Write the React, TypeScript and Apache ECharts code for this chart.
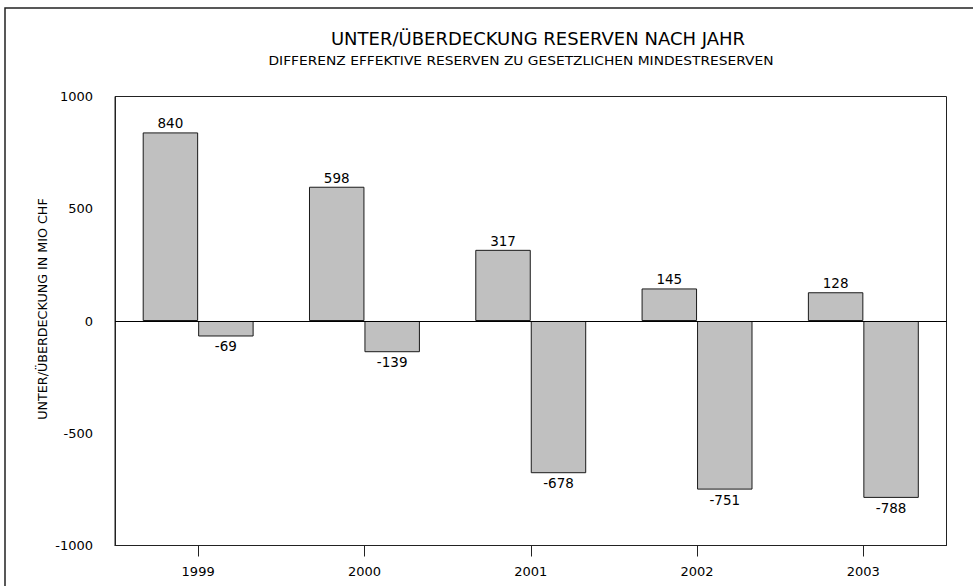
import React, { useEffect, useRef } from "react";
import * as echarts from "echarts";

const categories = ["1999", "2000", "2001", "2002", "2003"];
const positiveValues = [840, 598, 317, 145, 128];
const negativeValues = [-69, -139, -678, -751, -788];
const titleText = "UNTER/ÜBERDECKUNG RESERVEN NACH JAHR";
const subtitleText = "DIFFERENZ EFFEKTIVE RESERVEN ZU GESETZLICHEN MINDESTRESERVEN";
const yAxisName = "UNTER/ÜBERDECKUNG IN MIO CHF";

const FONT = "'DejaVu Sans', Verdana, sans-serif";

export default function App() {
  const ref = useRef<HTMLDivElement>(null);
  useEffect(() => {
    if (!ref.current) return;
    const chart = echarts.init(ref.current, undefined, { renderer: "svg" });
    const barStyle = { color: "#c0c0c0", borderColor: "#1a1a1a", borderWidth: 1 };
    chart.setOption({
      animation: false,
      backgroundColor: "#ffffff",
      textStyle: { fontFamily: FONT },
      graphic: [
        {
          type: "rect",
          shape: { x: 5, y: 8, width: 1200, height: 1200 },
          style: { fill: "none", stroke: "#222", lineWidth: 1.5 },
          silent: true,
        },
        {
          type: "text",
          x: 538,
          y: 39.5,
          scaleX: 1.06,
          style: {
            text: titleText,
            fontFamily: FONT,
            fontSize: 17,
            fill: "#000",
            align: "center",
            verticalAlign: "middle",
          },
          silent: true,
        },
        {
          type: "text",
          x: 521,
          y: 61,
          scaleX: 1.15,
          style: {
            text: subtitleText,
            fontFamily: FONT,
            fontSize: 12,
            fill: "#000",
            align: "center",
            verticalAlign: "middle",
          },
          silent: true,
        },
        {
          type: "text",
          x: 42.5,
          y: 309,
          rotation: Math.PI / 2,
          style: {
            text: yAxisName,
            fontFamily: FONT,
            fontSize: 12.7,
            fill: "#000",
            align: "center",
            verticalAlign: "middle",
          },
          silent: true,
        },
      ],
      grid: {
        left: 115,
        right: 26.5,
        top: 96.5,
        bottom: 40.5,
        show: true,
        borderColor: "#222",
        borderWidth: 1,
        containLabel: false,
      },
      xAxis: {
        type: "category",
        data: categories,
        position: "bottom",
        axisLine: { show: true, onZero: false, lineStyle: { color: "#222" } },
        axisTick: { show: true, alignWithLabel: true, length: 11, inside: false, lineStyle: { color: "#222" } },
        axisLabel: { color: "#000", fontSize: 13, fontFamily: FONT, margin: 19 },
        splitLine: { show: false },
      },
      yAxis: {
        type: "value",
        min: -1000,
        max: 1000,
        interval: 500,
        axisLine: { show: true, lineStyle: { color: "#222" } },
        axisTick: { show: false },
        axisLabel: {
          color: "#000",
          fontSize: 13,
          fontFamily: FONT,
          margin: 22,
          formatter: (v: number) => String(v),
        },
        splitLine: { show: false },
      },
      series: [
        {
          type: "bar",
          data: positiveValues,
          barGap: "0%",
          barCategoryGap: "33.3%",
          itemStyle: barStyle,
          label: { show: true, position: "top", distance: 2, color: "#000", fontSize: 13.5, fontFamily: FONT },
          markLine: {
            silent: true,
            symbol: "none",
            label: { show: false },
            lineStyle: { color: "#000", type: "solid", width: 1 },
            data: [{ yAxis: 0 }],
          },
        },
        {
          type: "bar",
          data: negativeValues,
          barGap: "0%",
          barCategoryGap: "33.3%",
          itemStyle: barStyle,
          label: { show: true, position: "bottom", distance: 3, color: "#000", fontSize: 13.5, fontFamily: FONT },
        },
      ],
    });
    return () => chart.dispose();
  }, []);
  return (
    <div
      ref={ref}
      style={{ position: "absolute", left: 0, top: 0, width: 973, height: 586 }}
    />
  );
}
